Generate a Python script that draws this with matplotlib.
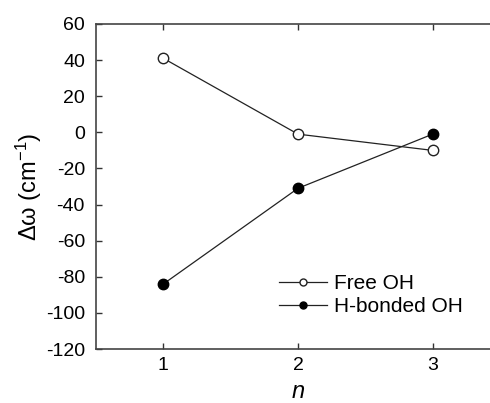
import matplotlib
matplotlib.use('Agg')
import matplotlib.pyplot as plt
from matplotlib.ticker import MultipleLocator

plt.rcParams['font.family'] = ['Liberation Sans', 'DejaVu Sans']
plt.rcParams['mathtext.fontset'] = 'custom'
plt.rcParams['mathtext.rm'] = 'Liberation Sans'
plt.rcParams['mathtext.it'] = 'Liberation Sans:italic'
plt.rcParams['axes.unicode_minus'] = False

n = [1, 2, 3]
free_oh = [41, -1, -10]
hbonded_oh = [-84, -31, -1]

fig = plt.figure(figsize=(4.9, 4.03), dpi=100)
# right spine falls outside the picture, as in the original
ax = fig.add_axes([96 / 490, 1 - 349 / 403, 404 / 490, 325 / 403])

ax.plot(n, free_oh, '-o', color='#222222', lw=0.9, ms=7.5,
        mfc='white', mec='#222222', mew=1.0, label='Free OH')
ax.plot(n, hbonded_oh, '-o', color='#222222', lw=0.9, ms=7.5,
        mfc='black', mec='black', mew=1.0, label='H-bonded OH')

ax.set_xlim(0.5, 3.5)
ax.set_ylim(-120, 60)
ax.set_xticks(n)
ax.yaxis.set_major_locator(MultipleLocator(20))
ax.tick_params(direction='in', top=True, right=True, length=4, width=1,
               color='#333333', labelsize=14)
ax.tick_params(axis='y', pad=8)
ax.tick_params(axis='x', pad=6)
for s in ax.spines.values():
    s.set_color('#444444')
    s.set_linewidth(1.2)

ax.set_xlabel('$n$', fontsize=17, labelpad=5)
ax.set_ylabel('Δω (cm$^{-1}$)', fontsize=17, labelpad=1)

leg = ax.legend(loc='center left', bbox_to_anchor=(0.453, 0.166), frameon=False,
                fontsize=15, handlelength=2.3, markerscale=0.67,
                handletextpad=0.34, labelspacing=0.2, borderaxespad=0,
                borderpad=0)

plt.savefig('out.png', dpi=100, facecolor='white')
print("Saved: out.png")
